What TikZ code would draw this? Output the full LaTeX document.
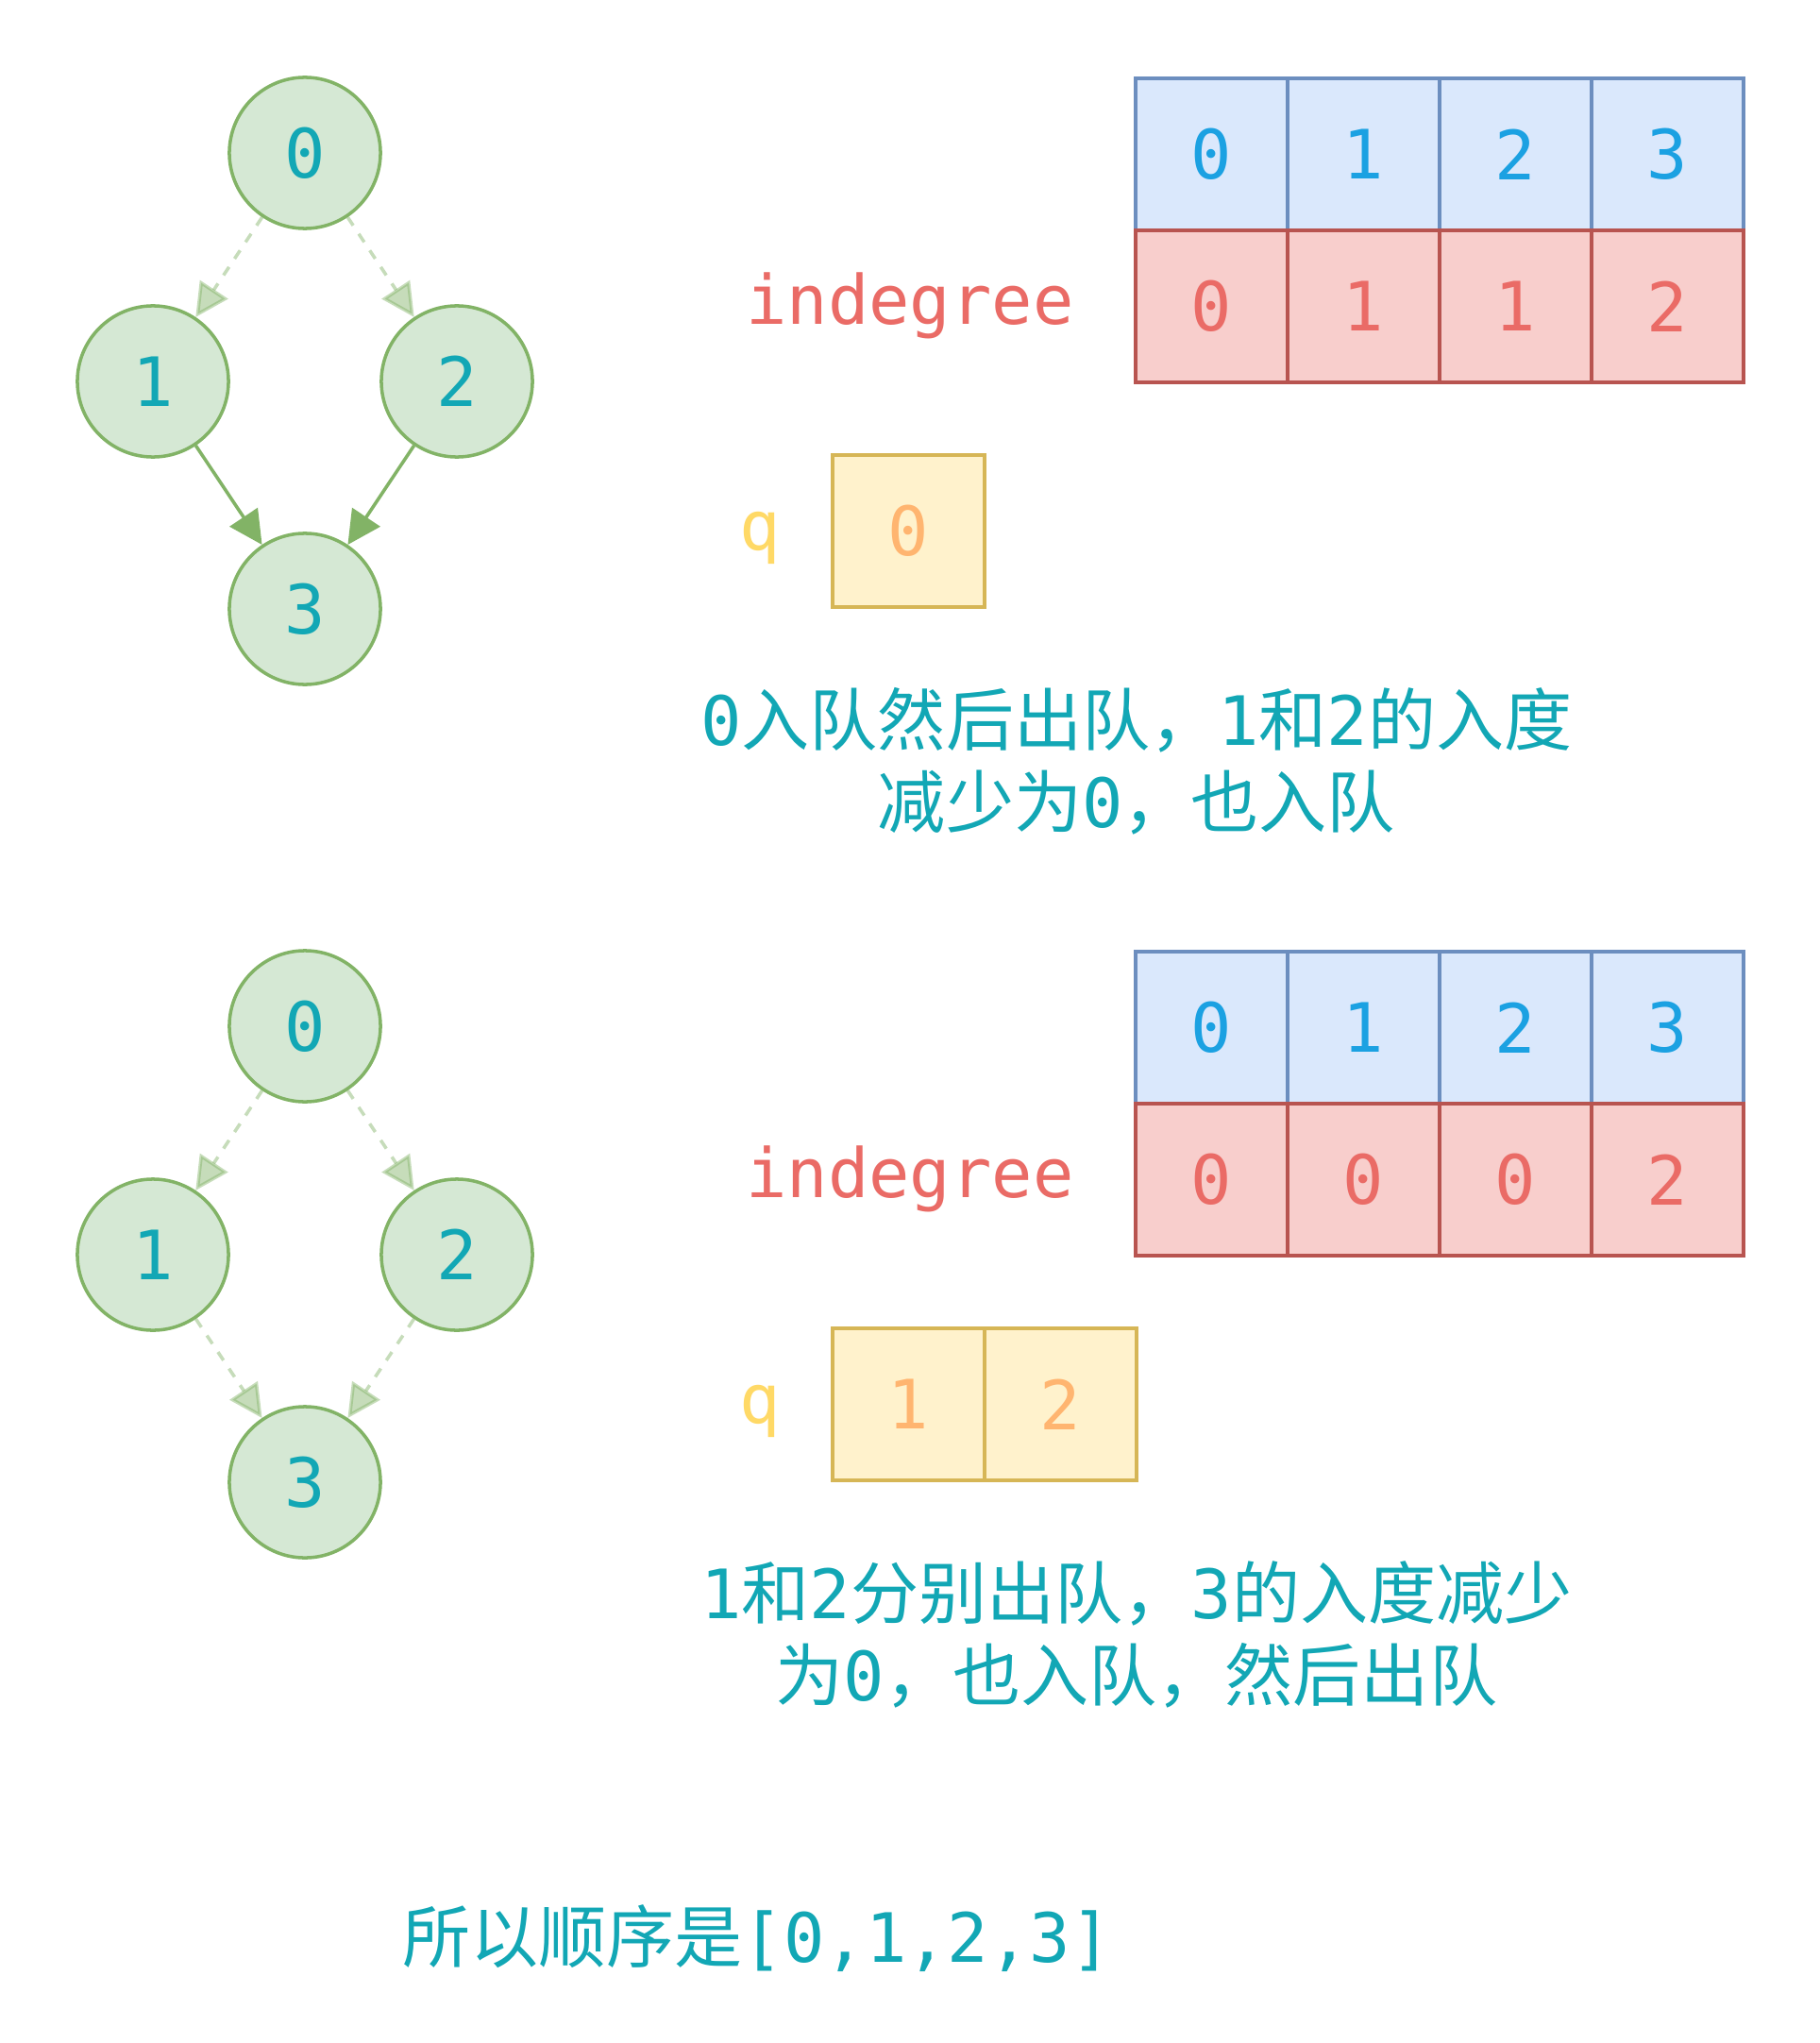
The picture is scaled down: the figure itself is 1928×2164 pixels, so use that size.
\documentclass[tikz,border=0pt]{standalone}
\usepackage{fontspec}
\setmonofont{DejaVu Sans Mono}
\newfontfamily\cjk{Noto Sans CJK SC}
\usetikzlibrary{arrows.meta}
\definecolor{nodefill}{HTML}{D5E8D4}
\definecolor{nodeline}{HTML}{82B366}
\definecolor{tealtext}{HTML}{12A7B5}
\definecolor{idxfill}{HTML}{DAE8FC}
\definecolor{idxline}{HTML}{6C8EBF}
\definecolor{idxtext}{HTML}{1BA1E2}
\definecolor{degfill}{HTML}{F8CECC}
\definecolor{degline}{HTML}{B85450}
\definecolor{degtext}{HTML}{EA6B66}
\definecolor{qfill}{HTML}{FFF2CC}
\definecolor{qline}{HTML}{D6B656}
\definecolor{qlabel}{HTML}{FFD966}
\definecolor{qtext}{HTML}{FFB570}
\newcommand\zh[1]{{\cjk #1}}

\begin{document}
\begin{tikzpicture}
  [x=0.01cm,y=-0.01cm,
   every node/.style={font=\ttfamily\fontsize{20.5}{24.7}\selectfont},
   vertex/.style={draw=nodeline,fill=nodefill,circle,line width=1pt,
                  minimum size=1.6cm,inner sep=0pt,text=tealtext},
   cell/.style={draw,line width=1.1pt,minimum size=1.61cm,inner sep=0pt},
   idx/.style={cell,draw=idxline,fill=idxfill,text=idxtext},
   deg/.style={cell,draw=degline,fill=degfill,text=degtext},
   qcell/.style={cell,draw=qline,fill=qfill,text=qtext},
   note/.style={align=center,text=tealtext},
   solidedge/.style={draw=nodeline,line width=1pt,
                     -{Triangle[length=10pt,width=10pt]}},
   fadededge/.style={draw=nodeline,draw opacity=0.45,fill opacity=0.45,
                     line width=1pt,dash pattern=on 3pt off 3pt,
                     -{Triangle[length=10pt,width=10pt]}}]
  \fill[white] (0,0) rectangle (1928,2164);
  \useasboundingbox (0,0) rectangle (1928,2164);
  % first step
  \node[vertex] (a0) at (323,162) {0};
  \node[vertex] (a1) at (162,404) {1};
  \node[vertex] (a2) at (484,404) {2};
  \node[vertex] (a3) at (323,645) {3};
  \draw[fadededge] (a0) -- (a1);
  \draw[fadededge] (a0) -- (a2);
  \draw[solidedge] (a1) -- (a3);
  \draw[solidedge] (a2) -- (a3);
  \foreach \i/\d in {0/0,1/1,2/1,3/2} {
    \node[idx] (ai\i) at (1283.5+161*\i,163.5) {\i};
    \node[deg] (ad\i) at (1283.5+161*\i,324.5) {\d};
  }
  \node[text=degtext] (adl) at (964,324) {indegree};
  \node[text=qlabel] (aql) at (805,570) {q};
  \node[qcell] (aq0) at (962.5,562.5) {0};
  \node[note] (atxt) at (1204,806)
    {0\zh{入队然后出队，}1\zh{和}2\zh{的入度}\\\zh{减少为}0\zh{，也入队}};
  % second step
  \node[vertex] (b0) at (323,1087) {0};
  \node[vertex] (b1) at (162,1329) {1};
  \node[vertex] (b2) at (484,1329) {2};
  \node[vertex] (b3) at (323,1570) {3};
  \foreach \from/\to in {b0/b1,b0/b2,b1/b3,b2/b3}
    \draw[fadededge] (\from) -- (\to);
  \foreach \i/\d in {0/0,1/0,2/0,3/2} {
    \node[idx] (bi\i) at (1283.5+161*\i,1088.5) {\i};
    \node[deg] (bd\i) at (1283.5+161*\i,1249.5) {\d};
  }
  \node[text=degtext] (bdl) at (964,1249) {indegree};
  \node[text=qlabel] (bql) at (805,1495) {q};
  \node[qcell] (bq0) at (962.5,1487.5) {1};
  \node[qcell] (bq1) at (1123.5,1487.5) {2};
  \node[note] (btxt) at (1204,1731)
    {1\zh{和}2\zh{分别出队，}3\zh{的入度减少}\\\zh{为}0\zh{，也入队，然后出队}};
  % result
  \node[note] (res) at (802,2053) {\zh{所以顺序是}[0,1,2,3]};
\end{tikzpicture}
\end{document}
